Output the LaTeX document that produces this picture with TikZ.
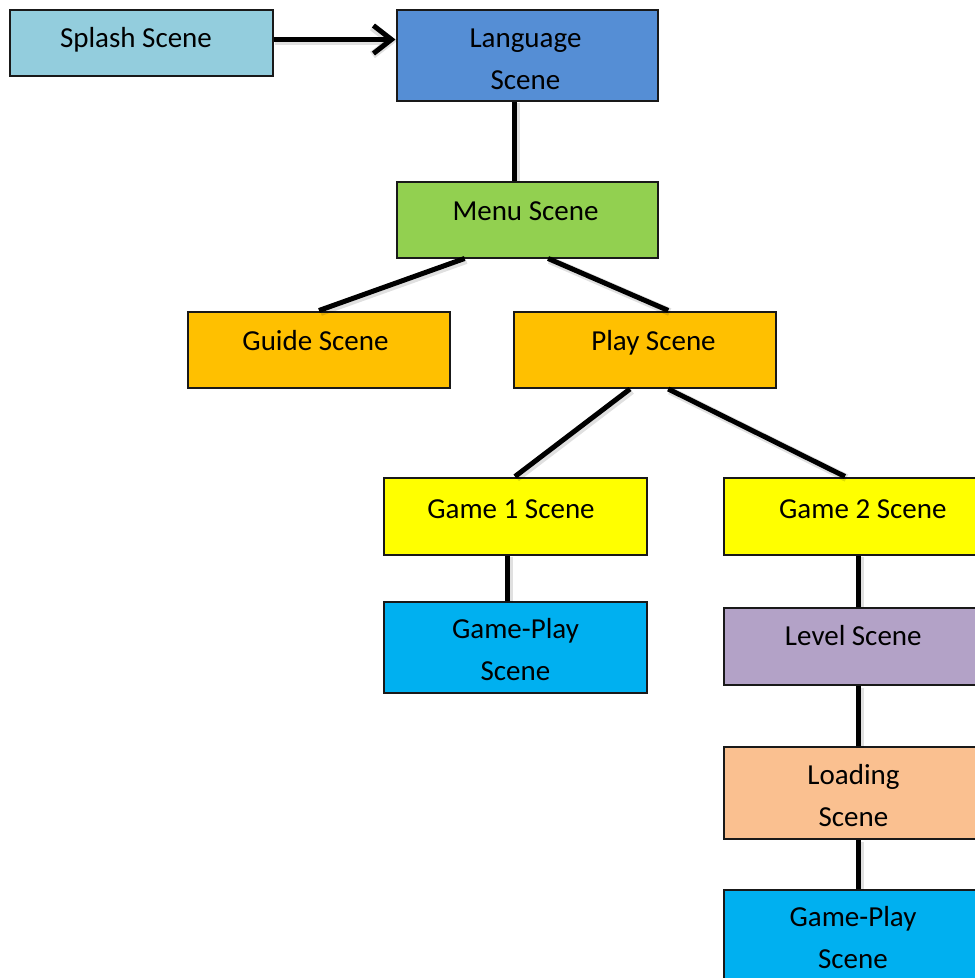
\documentclass[tikz,border=0pt]{standalone}
\usepackage{fontspec}
\setmainfont{Carlito}
\usetikzlibrary{arrows.meta,calc,fit}

\begin{document}
\begin{tikzpicture}[x=1pt,y=-1pt,
  box/.style={draw=black!90, line width=2pt, inner sep=0pt, rectangle},
  lbl/.style={font=\fontsize{29}{42}\selectfont, anchor=base, align=center, inner sep=0pt},
  link/.style={line width=5pt, draw=black, line cap=butt,
    preaction={draw=black, opacity=0.12, line width=8pt,
      transform canvas={xshift=1.5pt,yshift=-1.5pt}}},
]
\useasboundingbox (0,0) rectangle (975,978);
\clip (0,0) rectangle (975,978);

% scene boxes
\node[box, fill={rgb,255:red,147;green,205;blue,221}, fit={(10,9.5) (272.5,75.5)}] (splash) {};
\node[box, fill={rgb,255:red,85;green,142;blue,213}, fit={(396.5,9.5) (658,100.5)}] (language) {};
\node[box, fill={rgb,255:red,146;green,208;blue,80}, fit={(396.5,181.5) (658,257.5)}] (menu) {};
\node[box, fill={rgb,255:red,255;green,192;blue,0}, fit={(188,311.5) (450,388)}] (guide) {};
\node[box, fill={rgb,255:red,255;green,192;blue,0}, fit={(514,311.5) (776,388)}] (play) {};
\node[box, fill={rgb,255:red,255;green,255;blue,0}, fit={(383.5,477.5) (646.5,554.5)}] (game1) {};
\node[box, fill={rgb,255:red,0;green,176;blue,240}, fit={(383.5,601.5) (646.5,693)}] (gameplay1) {};
\node[box, fill={rgb,255:red,255;green,255;blue,0}, fit={(724,477.5) (986,554.5)}] (game2) {};
\node[box, fill={rgb,255:red,179;green,162;blue,199}, fit={(724,607.5) (986,685)}] (level) {};
\node[box, fill={rgb,255:red,250;green,192;blue,144}, fit={(724,747) (986,839)}] (loading) {};
\node[box, fill={rgb,255:red,0;green,176;blue,240}, fit={(724,889.5) (986,995)}] (gameplay2) {};

% connectors
\coordinate (arrowy) at (0,39.5);
\draw[link, -{Straight Barb[length=18pt,width=28pt]}] (splash.east |- arrowy) -- (language.west |- arrowy);
\draw[link] ($(language.south west)!0.451!(language.south east)$) -- ($(menu.north west)!0.451!(menu.north east)$);
\draw[link] ($(menu.south west)!0.262!(menu.south east)$) -- ($(guide.north west)!0.5!(guide.north east)$);
\draw[link] ($(menu.south west)!0.579!(menu.south east)$) -- ($(play.north west)!0.588!(play.north east)$);
\draw[link] ($(play.south west)!0.443!(play.south east)$) -- ($(game1.north west)!0.5!(game1.north east)$);
\draw[link] ($(play.south west)!0.588!(play.south east)$) -- ($(game2.north west)!0.462!(game2.north east)$);
\draw[link] ($(game1.south west)!0.47!(game1.south east)$) -- ($(gameplay1.north west)!0.47!(gameplay1.north east)$);
\draw[link] ($(game2.south west)!0.515!(game2.south east)$) -- ($(level.north west)!0.515!(level.north east)$);
\draw[link] ($(level.south west)!0.515!(level.south east)$) -- ($(loading.north west)!0.515!(loading.north east)$);
\draw[link] ($(loading.south west)!0.515!(loading.south east)$) -- ($(gameplay2.north west)!0.515!(gameplay2.north east)$);

% labels (anchored at the baseline of the last line)
\node[lbl] (splash-t) at (136,47.5) {Splash Scene};
\node[lbl] (language-t) at (525.5,89.5) {Language\\Scene};
\node[lbl] (menu-t) at (525.5,220) {Menu Scene};
\node[lbl] (guide-t) at (315.5,350.5) {Guide Scene};
\node[lbl] (play-t) at (653.5,350.5) {Play Scene};
\node[lbl] (game1-t) at (511,518.5) {Game 1 Scene};
\node[lbl] (gameplay1-t) at (515.5,680.7) {Game-Play\\Scene};
\node[lbl] (game2-t) at (862.8,518.5) {Game 2 Scene};
\node[lbl] (level-t) at (853.3,645.7) {Level Scene};
\node[lbl] (loading-t) at (853.5,826.7) {Loading\\Scene};
\node[lbl] (gameplay2-t) at (853,968.3) {Game-Play\\Scene};
\end{tikzpicture}
\end{document}
